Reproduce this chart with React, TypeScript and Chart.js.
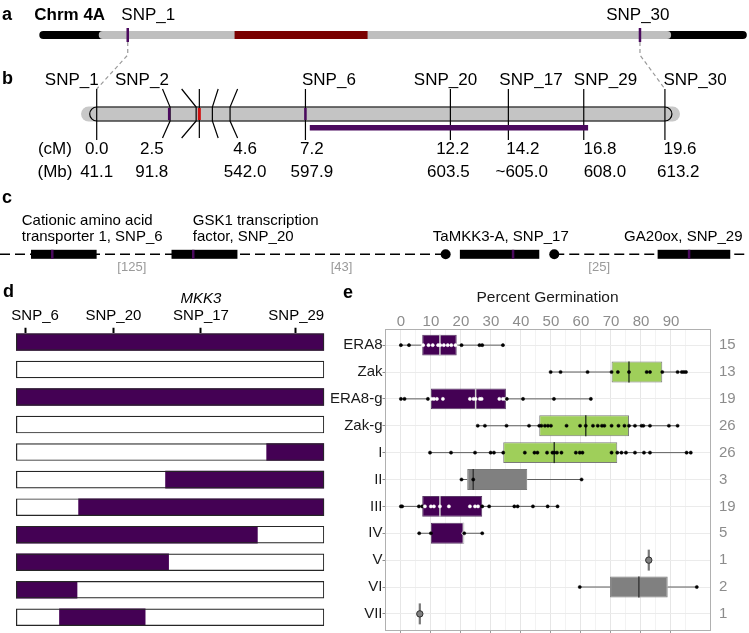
import React, { useEffect, useRef } from 'react';
import { Chart, registerables } from 'chart.js';

Chart.register(...registerables);

const FONT = "'Liberation Sans', Arial, Helvetica, sans-serif";
Chart.defaults.font.family = FONT;
Chart.defaults.color = '#000';

/* ================= DATA ================= */

/* panel a: chromosome 4A overview, position in % of chromosome length */
const aSegmentStart = [0, 8.4, 27.6];
const aSegmentEnd = [100, 89.3, 46.4];
const aSnpNames = ['SNP_1', 'SNP_30'];
const aSnpPos = [12.5, 84.9];
const aSnpLabelAt = [15.4, 84.6];

/* panel b: genetic map (cM) */
const bMarkerNames = ['SNP_1', 'SNP_2', 'SNP_6', 'SNP_20', 'SNP_17', 'SNP_29', 'SNP_30'];
const bMarkerNameAt = [-0.86, 1.56, 8.01, 12.03, 14.98, 17.55, 20.64];
const bStraightCM = [0, 7.2, 12.2, 14.2, 16.8, 19.6];
const bBentCM = [2.53, 3.43, 3.54, 3.99, 4.6];
const bBentLabelCM = [2.27, 2.93, 3.54, 4.19, 4.86];
const bPurpleMarkCM = [2.5, 7.2];
const bRedMarkCM = [3.54];
const bChromCM = [0, 19.6];
const bOuterCM = [-0.54, 20.12];
const bQtlCM = [7.35, 16.95];
const bCmLabels = ['0.0', '2.5', '4.6', '7.2', '12.2', '14.2', '16.8', '19.6'];
const bCmLabelAt = [0, 1.9, 5.12, 7.42, 12.28, 14.7, 17.36, 20.12];
const bMbLabels = ['41.1', '91.8', '542.0', '597.9', '603.5', '~605.0', '608.0', '613.2'];
const bMbLabelAt = [0, 1.9, 5.12, 7.42, 12.13, 14.66, 17.53, 20.06];
const bHeaderAt = -1.44;

/* panel c: gene models (schematic position, % of width) */
const cBlockStart = [4.14, 22.9, 61.4, 87.8];
const cBlockEnd = [12.9, 31.7, 72.0, 97.5];
const cSnpAt = [6.98, 25.8, 68.5, 92.0];
const cDotAt = [59.5, 74.0];
const cDashStart = [0, 74.0];
const cDashEnd = [59.5, 99.5];
const cGapLabels = ['[125]', '[43]', '[25]'];
const cGapAt = [17.6, 45.6, 80.0];
const cGeneLines = [
  ['Cationic amino acid', 'transporter 1, SNP_6'],
  ['GSK1 transcription', 'factor, SNP_20'],
  ['TaMKK3-A, SNP_17'],
  ['GA20ox, SNP_29'],
];
const cGeneAt = [2.9, 25.73, 66.86, 91.23];

/* panel d: haplotypes (% along SNP_6..SNP_29 region) */
const dRowCount = 11;
const dPurpleRow = [1, 3, 5, 6, 7, 8, 9, 10, 11];
const dPurpleStart = [0, 0, 81.2, 48.4, 20.2, 0, 0, 0, 14];
const dPurpleEnd = [100, 100, 100, 100, 100, 78.4, 49.6, 19.9, 42];
const dSnpNames = ['SNP_6', 'SNP_20', 'SNP_17', 'SNP_29'];
const dSnpAt = [3.2, 31.7, 59.8, 90.7];
const dSnpLabelAt = [6.2, 31.6, 60.0, 90.9];

/* panel e: percent germination */
const eCategories = ['ERA8', 'Zak', 'ERA8-g', 'Zak-g', 'I', 'II', 'III', 'IV', 'V', 'VI', 'VII'];
const eN = [15, 13, 19, 26, 26, 3, 19, 5, 1, 2, 1];
const eQ1 = [7.1, 70.2, 10, 46.1, 34.1, 22.1, 7.1, 10, 82.6, 69.7, 6.3];
const eMedian = [13, 76, 24.9, 61.6, 51.1, 24.1, 13, 20.8, 82.6, 79.3, 6.3];
const eQ3 = [18.6, 87.1, 35, 76, 72.1, 42.1, 27.1, 21.1, 82.6, 88.9, 6.3];
const eLow = [0, 49.9, 0, 25.6, 9.7, 20.2, 0, 6.1, 82.6, 59.6, 6.3];
const eHigh = [34, 95, 63.3, 92.2, 96.6, 60.2, 52.2, 27.1, 82.6, 98.6, 6.3];
const ePoints = [
  [0, 2.7, 7.4, 9.2, 10.6, 12.4, 13.1, 14.3, 15.6, 16.8, 18.2, 20.2, 26.2, 27.1, 34],
  [49.9, 53.2, 62.2, 70.2, 72.3, 76, 81.9, 83, 87.1, 92.2, 93.6, 94.3, 95],
  [0, 1.2, 9, 10.2, 11, 12, 14, 23, 24.2, 24.9, 26.3, 26.9, 32.8, 34, 34.8, 35.3, 40.7, 51, 63.3],
  [25.6, 28, 35.2, 42.7, 46.1, 46.8, 48, 49, 50, 55.2, 59.7, 61.6, 64, 65.6, 67, 67.8, 70.2, 72.5, 74.5, 76, 78, 80.2, 80.8, 83, 89.3, 92.2],
  [9.7, 16.7, 24.7, 29.9, 31, 34.1, 41.3, 44.5, 45.5, 48.7, 50.5, 51.1, 52, 53.5, 58.3, 59.6, 60.5, 70.2, 72.1, 73.5, 75, 78, 81, 83, 95.2, 96.6],
  [20.2, 24.1, 60.2],
  [0, 0.4, 6, 7.1, 8, 10, 11, 13, 16, 23, 24.7, 25.7, 27.1, 29.4, 37.8, 38.9, 44, 48.9, 52.2],
  [6.1, 10, 20.8, 21.1, 27.1],
  [82.6],
  [59.6, 98.6],
  [6.3],
];
const eTicks = [0, 10, 20, 30, 40, 50, 60, 70, 80, 90];
const eGridTicks = [0, 5, 10, 15, 20, 25, 30, 35, 40, 45, 50, 55, 60, 65, 70, 75, 80, 85, 90, 95];

/* ================= STYLE / LAYOUT ================= */
const PURPLE = '#440154';
const SNP_PURPLE = '#4b0a5e';
const GREEN = '#9fcf5a';
const GREY = '#808080';
const CHROM_GREY = '#bfbfbf';
const DARK_RED = '#7a0000';
const E_BOX_FILL = [PURPLE, GREEN, PURPLE, GREEN, GREEN, GREY, PURPLE, PURPLE, GREY, GREY, GREY];
const E_MEDIAN = ['#d0d0d0', '#2e3d22', '#d0d0d0', '#2e3d22', '#2e3d22', '#3a3a3a', '#d0d0d0', '#d0d0d0', '#777777', '#3a3a3a', '#777777'];

const LA = { letterY: 15, titleX: 34.3, chromY: 35, chromH: 8, snpTop: 28, snpBottom: 42, labelY: 15, bendY: 55 };
const LB = { letterY: 79, nameY: 80, lineTop: 89, lineBottom: 140, chromTop: 107, chromBottom: 121, chromY: 114, outerH: 15, cap: 7, qtlTop: 125, qtlBottom: 130.5, cmY: 149, mbY: 172 };
const LC = { letterY: 198, line1Y: 221, line2Y: 237, geneY: 254.3, blockH: 9, dotR: 5, gapY: 267 };

function txt(ctx: CanvasRenderingContext2D, s: string, x: number, y: number, font: string, align: CanvasTextAlign = 'center', color = '#000') {
  ctx.font = font;
  ctx.fillStyle = color;
  ctx.textAlign = align;
  ctx.textBaseline = 'middle';
  ctx.fillText(s, x, y);
}
function line(ctx: CanvasRenderingContext2D, pts: number[][], color: string, w: number, dash: number[] = []) {
  ctx.strokeStyle = color;
  ctx.lineWidth = w;
  ctx.setLineDash(dash);
  ctx.beginPath();
  pts.forEach((p, i) => (i === 0 ? ctx.moveTo(p[0], p[1]) : ctx.lineTo(p[0], p[1])));
  ctx.stroke();
  ctx.setLineDash([]);
}

const F17 = `17px ${FONT}`;
const F15 = `15px ${FONT}`;
const FB = `bold 18px ${FONT}`;

/* ================= PANELS a-c ================= */
const abcPlugin = {
  id: 'abcDiagram',
  afterDraw(chart: any) {
    const ctx: CanvasRenderingContext2D = chart.ctx;
    const xa = (v: number) => chart.scales.xa.getPixelForValue(v);
    const xb = (v: number) => chart.scales.xb.getPixelForValue(v);
    const xc = (v: number) => chart.scales.xc.getPixelForValue(v);
    ctx.save();

    /* ---- a ---- */
    const aColors = ['#000000', CHROM_GREY, DARK_RED];
    const aRound = [true, true, false];
    for (let i = 0; i < aSegmentStart.length; i++) {
      const x1 = xa(aSegmentStart[i]);
      const x2 = xa(aSegmentEnd[i]);
      ctx.fillStyle = aColors[i];
      ctx.beginPath();
      if (aRound[i]) ctx.roundRect(x1, LA.chromY - LA.chromH / 2, x2 - x1, LA.chromH, LA.chromH / 2);
      else ctx.rect(x1, LA.chromY - LA.chromH / 2, x2 - x1, LA.chromH);
      ctx.fill();
    }
    aSnpPos.forEach((p, i) => {
      line(ctx, [[xa(p), LA.snpTop], [xa(p), LA.snpBottom]], SNP_PURPLE, 2.5);
      txt(ctx, aSnpNames[i], xa(aSnpLabelAt[i]), LA.labelY, F17);
    });
    txt(ctx, 'a', 2, LA.letterY, FB, 'left');
    txt(ctx, 'Chrm 4A', LA.titleX, LA.labelY, `bold 17px ${FONT}`, 'left');
    // connectors a -> b
    line(ctx, [[xa(aSnpPos[0]), LA.snpBottom], [xa(aSnpPos[0]), LA.bendY], [xb(bChromCM[0]), LB.lineTop]], '#9a9a9a', 1.2, [4, 3]);
    line(ctx, [[xa(aSnpPos[1]), LA.snpBottom], [xa(aSnpPos[1]), LA.bendY], [xb(bChromCM[1]), LB.lineTop]], '#9a9a9a', 1.2, [4, 3]);

    /* ---- b ---- */
    txt(ctx, 'b', 2, LB.letterY, FB, 'left');
    const ox1 = xb(bOuterCM[0]);
    const ox2 = xb(bOuterCM[1]);
    ctx.fillStyle = '#c8c8c8';
    ctx.beginPath();
    ctx.roundRect(ox1, LB.chromY - LB.outerH / 2, ox2 - ox1, LB.outerH, LB.outerH / 2);
    ctx.fill();
    const ix1 = xb(bChromCM[0]) - LB.cap;
    const ix2 = xb(bChromCM[1]) + LB.cap;
    ctx.beginPath();
    ctx.roundRect(ix1, LB.chromTop, ix2 - ix1, LB.chromBottom - LB.chromTop, (LB.chromBottom - LB.chromTop) / 2);
    ctx.fillStyle = '#c4c4c4';
    ctx.fill();
    ctx.strokeStyle = '#000';
    ctx.lineWidth = 1.2;
    ctx.stroke();
    bStraightCM.forEach((v) => line(ctx, [[xb(v), LB.lineTop], [xb(v), LB.lineBottom]], '#000', 1.2));
    bBentCM.forEach((v, i) => {
      const lx = xb(bBentLabelCM[i]);
      const cx = xb(v);
      line(ctx, [[lx, LB.lineTop], [cx, LB.chromTop], [cx, LB.chromBottom], [lx, LB.lineBottom - 2]], '#000', 1.2);
    });
    bPurpleMarkCM.forEach((v) => line(ctx, [[xb(v), LB.chromTop + 1], [xb(v), LB.chromBottom - 1]], SNP_PURPLE, 2.5));
    bRedMarkCM.forEach((v) => line(ctx, [[xb(v), LB.chromTop + 1], [xb(v), LB.chromBottom - 1]], '#d01010', 3));
    ctx.fillStyle = SNP_PURPLE;
    ctx.fillRect(xb(bQtlCM[0]), LB.qtlTop, xb(bQtlCM[1]) - xb(bQtlCM[0]), LB.qtlBottom - LB.qtlTop);
    bMarkerNames.forEach((n, i) => txt(ctx, n, xb(bMarkerNameAt[i]), LB.nameY, F17));
    txt(ctx, '(cM)', xb(bHeaderAt), LB.cmY, F17);
    txt(ctx, '(Mb)', xb(bHeaderAt), LB.mbY, F17);
    bCmLabels.forEach((s, i) => txt(ctx, s, xb(bCmLabelAt[i]), LB.cmY, F17));
    bMbLabels.forEach((s, i) => txt(ctx, s, xb(bMbLabelAt[i]), LB.mbY, F17));

    /* ---- c ---- */
    txt(ctx, 'c', 2, LC.letterY, FB, 'left');
    cDashStart.forEach((s, i) => line(ctx, [[xc(s), LC.geneY], [xc(cDashEnd[i]), LC.geneY]], '#000', 1.5, [10, 5]));
    cBlockStart.forEach((s, i) => {
      ctx.fillStyle = '#000';
      ctx.fillRect(xc(s), LC.geneY - LC.blockH / 2, xc(cBlockEnd[i]) - xc(s), LC.blockH);
    });
    cSnpAt.forEach((v) => line(ctx, [[xc(v), LC.geneY - LC.blockH / 2], [xc(v), LC.geneY + LC.blockH / 2]], SNP_PURPLE, 2.5));
    cDotAt.forEach((v) => {
      ctx.fillStyle = '#000';
      ctx.beginPath();
      ctx.arc(xc(v), LC.geneY, LC.dotR, 0, Math.PI * 2);
      ctx.fill();
    });
    cGapLabels.forEach((s, i) => txt(ctx, s, xc(cGapAt[i]), LC.gapY, `13px ${FONT}`, 'center', '#9a9a9a'));
    cGeneLines.forEach((lines, i) => {
      const align: CanvasTextAlign = lines.length > 1 ? 'left' : 'center';
      if (lines.length > 1) {
        txt(ctx, lines[0], xc(cGeneAt[i]), LC.line1Y, F15, align);
        txt(ctx, lines[1], xc(cGeneAt[i]), LC.line2Y, F15, align);
      } else {
        txt(ctx, lines[0], xc(cGeneAt[i]), LC.line2Y, F15, align);
      }
    });
    ctx.restore();
  },
};

function abcConfig(): any {
  return {
    type: 'scatter',
    data: { datasets: [{ data: [], xAxisID: 'xa', yAxisID: 'y' }] },
    options: {
      animation: false,
      responsive: false,
      events: [],
      layout: { padding: 0 },
      plugins: { legend: { display: false }, tooltip: { enabled: false } },
      scales: {
        xa: { type: 'linear', axis: 'x', display: false, min: -5.555, max: 100.31 },
        xb: { type: 'linear', axis: 'x', display: false, min: -3.3356, max: 22.5 },
        xc: { type: 'linear', axis: 'x', display: false, min: 0, max: 100 },
        y: { type: 'linear', display: false, min: 0, max: 1 },
      },
    },
    plugins: [abcPlugin],
  };
}

/* ================= PANEL d ================= */
const dPlugin = {
  id: 'dExtra',
  afterDraw(chart: any) {
    const ctx: CanvasRenderingContext2D = chart.ctx;
    const x = chart.scales.x;
    ctx.save();
    txt(ctx, 'd', 3, 12, FB, 'left');
    txt(ctx, 'MKK3', x.getPixelForValue(dSnpLabelAt[2]), 19, `italic 15px ${FONT}`);
    dSnpNames.forEach((n, i) => txt(ctx, n, x.getPixelForValue(dSnpLabelAt[i]), 36, F15));
    ctx.restore();
  },
};

function dConfig(): any {
  const rows = Array.from({ length: dRowCount }, (_, i) => i + 1);
  const bar = { grouped: false, categoryPercentage: 1, barPercentage: 0.636, borderSkipped: false };
  return {
    type: 'bar',
    data: {
      datasets: [
        { ...bar, data: rows.map((r) => ({ x: [0, 100], y: r })), backgroundColor: 'rgba(0,0,0,0)', borderColor: '#262626', borderWidth: 1.2 },
        { ...bar, data: dPurpleRow.map((r, i) => ({ x: [dPurpleStart[i], dPurpleEnd[i]], y: r })), backgroundColor: PURPLE, borderWidth: 0 },
        { ...bar, data: rows.map((r) => ({ x: [0, 100], y: r })), backgroundColor: '#ffffff', borderWidth: 0 },
      ],
    },
    options: {
      indexAxis: 'y',
      animation: false,
      responsive: false,
      events: [],
      layout: { padding: { left: 16, right: 10.7, top: 0, bottom: 7 } },
      plugins: { legend: { display: false }, tooltip: { enabled: false } },
      scales: {
        x: {
          type: 'linear',
          position: 'top',
          min: 0,
          max: 100,
          offset: false,
          afterBuildTicks: (s: any) => { s.ticks = dSnpAt.map((v) => ({ value: v })); },
          afterFit: (s: any) => { s.height = 53.25; },
          grid: { drawOnChartArea: false, drawTicks: true, tickLength: 5.5, tickWidth: 2, tickColor: '#000' },
          border: { display: false },
          ticks: { display: false },
        },
        y: {
          type: 'linear',
          reverse: true,
          offset: false,
          min: 0.682,
          max: 11.318,
          display: false,
          grid: { offset: false },
          afterBuildTicks: (s: any) => { s.ticks = rows.map((v) => ({ value: v })); },
        },
      },
    },
    plugins: [dPlugin],
  };
}

/* ================= PANEL e ================= */
const BOX_HALF = 0.39;
const ePlugin = {
  id: 'eBoxplot',
  beforeDatasetsDraw(chart: any) {
    const ctx: CanvasRenderingContext2D = chart.ctx;
    const x = chart.scales.x;
    const y = chart.scales.y;
    ctx.save();
    eCategories.forEach((_, i) => {
      if (eN[i] < 2) return;
      const py = y.getPixelForValue(i + 1);
      line(ctx, [[x.getPixelForValue(eLow[i]), py], [x.getPixelForValue(eQ1[i]), py]], '#5e5e5e', 1);
      line(ctx, [[x.getPixelForValue(eQ3[i]), py], [x.getPixelForValue(eHigh[i]), py]], '#5e5e5e', 1);
    });
    ctx.restore();
  },
  afterDatasetDraw(chart: any, args: any) {
    if (args.index !== 1) return;
    const ctx: CanvasRenderingContext2D = chart.ctx;
    const x = chart.scales.x;
    const y = chart.scales.y;
    ctx.save();
    eCategories.forEach((_, i) => {
      const px = x.getPixelForValue(eMedian[i]);
      const single = eN[i] < 2;
      line(ctx, [[px, y.getPixelForValue(i + 1 - BOX_HALF)], [px, y.getPixelForValue(i + 1 + BOX_HALF)]], E_MEDIAN[i], single ? 2.2 : 1.5);
    });
    ctx.restore();
  },
  afterDraw(chart: any) {
    const ctx: CanvasRenderingContext2D = chart.ctx;
    ctx.save();
    txt(ctx, 'e', 13, 13, FB, 'left');
    ctx.restore();
  },
};

function eConfig(): any {
  const pts: any[] = [];
  const radii: number[] = [];
  const fills: string[] = [];
  const borders: string[] = [];
  ePoints.forEach((arr, i) => {
    arr.forEach((v) => {
      const single = eN[i] < 2;
      const inside = E_BOX_FILL[i] === PURPLE && v > eQ1[i] && v < eQ3[i];
      pts.push({ x: v, y: i + 1 });
      radii.push(single ? 3.2 : 1.6);
      fills.push(single ? '#7f7f7f' : inside ? '#ffffff' : '#000000');
      borders.push(single ? '#303030' : inside ? '#ffffff' : '#000000');
    });
  });
  const boxIdx = eCategories.map((_, i) => i).filter((i) => eN[i] > 1);
  const rows = eCategories.map((_, i) => i + 1);
  const border = { display: true, color: '#b0b0b0', width: 1 };
  return {
    type: 'bar',
    data: {
      datasets: [
        {
          type: 'scatter',
          data: pts,
          pointRadius: radii,
          pointBackgroundColor: fills,
          pointBorderColor: borders,
          pointBorderWidth: radii.map((r) => (r > 2 ? 1 : 0.5)),
        },
        {
          type: 'bar',
          data: boxIdx.map((i) => ({ x: [eQ1[i], eQ3[i]], y: i + 1 })),
          backgroundColor: boxIdx.map((i) => E_BOX_FILL[i]),
          borderColor: boxIdx.map((i) => (E_BOX_FILL[i] === PURPLE ? '#5a3a66' : '#7a7a7a')),
          borderWidth: 1,
          borderSkipped: false,
          grouped: false,
          categoryPercentage: 1,
          barPercentage: 0.78,
        },
      ],
    },
    options: {
      indexAxis: 'y',
      animation: false,
      responsive: false,
      events: [],
      layout: { padding: 0 },
      plugins: { legend: { display: false }, tooltip: { enabled: false } },
      scales: {
        x: {
          type: 'linear',
          position: 'top',
          min: -5.3,
          max: 103,
          offset: false,
          afterBuildTicks: (s: any) => { s.ticks = eGridTicks.map((v) => ({ value: v })); },
          afterFit: (s: any) => { s.height = 49; },
          grid: {
            drawTicks: false,
            color: (c: any) => (c.tick && c.tick.value % 10 === 0 ? '#e6e6e6' : '#f3f3f3'),
            lineWidth: 1,
          },
          border,
          ticks: {
            autoSkip: false,
            maxRotation: 0,
            padding: 0,
            color: '#8c8c8c',
            font: { size: 15, lineHeight: 1 },
            callback: (v: any) => (v % 10 === 0 ? String(v) : ''),
          },
          title: {
            display: true,
            text: 'Percent Germination',
            color: '#1a1a1a',
            font: { size: 15.5, lineHeight: 1.2 },
            padding: { top: 8.7, bottom: 6.7 },
          },
        },
        x2: {
          type: 'linear',
          axis: 'x',
          position: 'bottom',
          min: -5.3,
          max: 103,
          offset: false,
          afterBuildTicks: (s: any) => { s.ticks = eTicks.map((v) => ({ value: v })); },
          afterFit: (s: any) => { s.height = 24; },
          grid: { drawOnChartArea: false, drawTicks: true, tickLength: 3.5, tickColor: '#9a9a9a' },
          border,
          ticks: { display: false },
        },
        y: {
          type: 'linear',
          position: 'left',
          reverse: true,
          offset: false,
          min: 0.4,
          max: 11.6,
          afterBuildTicks: (s: any) => { s.ticks = rows.map((v) => ({ value: v })); },
          afterFit: (s: any) => { s.width = 55; },
          grid: { offset: false, color: '#ebebeb', drawTicks: true, tickLength: 2.5, tickColor: '#8c8c8c' },
          border,
          ticks: {
            autoSkip: false,
            padding: 0,
            color: '#1a1a1a',
            font: { size: 15, lineHeight: 1 },
            callback: (v: any) => eCategories[Math.round(v) - 1],
          },
        },
        y2: {
          type: 'linear',
          axis: 'y',
          position: 'right',
          reverse: true,
          offset: false,
          min: 0.4,
          max: 11.6,
          afterBuildTicks: (s: any) => { s.ticks = rows.map((v) => ({ value: v })); },
          afterFit: (s: any) => { s.width = 39; },
          grid: { offset: false, drawOnChartArea: false, drawTicks: false },
          border,
          ticks: {
            autoSkip: false,
            padding: 9,
            color: '#8c8c8c',
            font: { size: 15, lineHeight: 1 },
            callback: (v: any) => String(eN[Math.round(v) - 1]),
          },
        },
      },
    },
    plugins: [ePlugin],
  };
}

/* ================= APP ================= */
export default function App() {
  const abcRef = useRef<HTMLCanvasElement>(null);
  const dRef = useRef<HTMLCanvasElement>(null);
  const eRef = useRef<HTMLCanvasElement>(null);

  useEffect(() => {
    const charts = [
      new Chart(abcRef.current as HTMLCanvasElement, abcConfig()),
      new Chart(dRef.current as HTMLCanvasElement, dConfig()),
      new Chart(eRef.current as HTMLCanvasElement, eConfig()),
    ];
    return () => charts.forEach((c) => c.destroy());
  }, []);

  const abs = (left: number, top: number, width: number, height: number): React.CSSProperties => ({
    position: 'absolute', left, top, width, height,
  });

  return (
    <div style={{ position: 'absolute', left: 0, top: 0, width: 749, height: 633, overflow: 'hidden', background: '#ffffff' }}>
      <canvas ref={abcRef} width={749} height={280} style={abs(0, 0, 749, 280)} />
      <canvas ref={dRef} width={335} height={353} style={abs(0, 280, 335, 353)} />
      <canvas ref={eRef} width={419} height={374} style={abs(330, 280, 419, 374)} />
    </div>
  );
}
